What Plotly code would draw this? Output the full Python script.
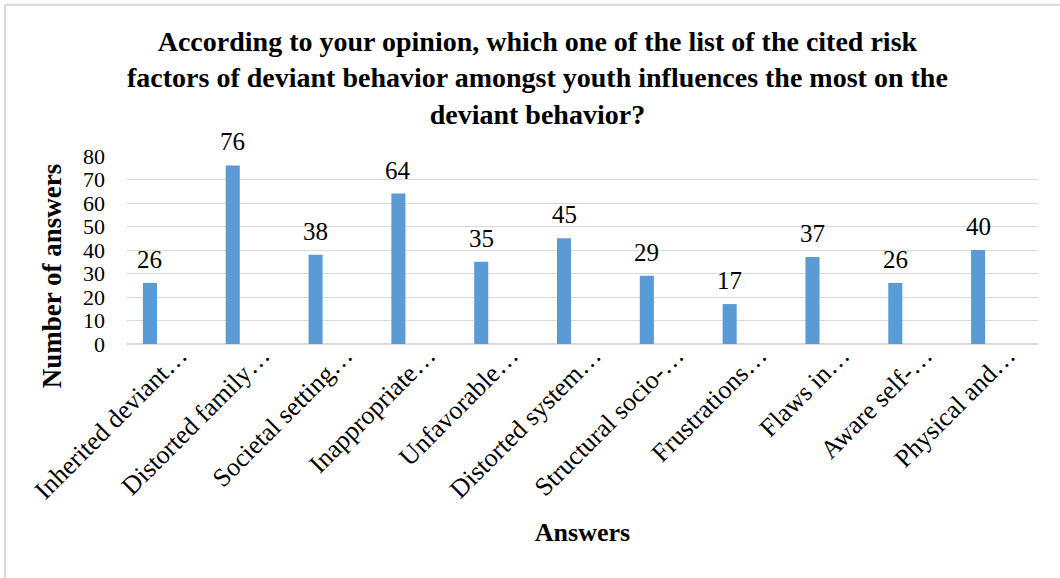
import plotly.graph_objects as go

categories = ["Inherited deviant…", "Distorted family…", "Societal setting…", "Inappropriate…",
              "Unfavorable…", "Distorted system…", "Structural socio-…", "Frustrations…",
              "Flaws in…", "Aware self-…", "Physical and…"]
values = [26, 76, 38, 64, 35, 45, 29, 17, 37, 26, 40]
y_ticks = [0, 10, 20, 30, 40, 50, 60, 70, 80]

title_text = ("According to your opinion, which one of the list of the cited risk<br>"
              "factors of deviant behavior amongst youth influences the most on the<br>"
              "deviant behavior?")
x_title = "Answers"
y_title = "Number of answers"

FONT = "Liberation Serif"
BAR_W = 0.17
BAR_OFF = -0.308

fig = go.Figure()
fig.add_trace(go.Bar(
    x=categories, y=values,
    width=BAR_W, offset=BAR_OFF,
    marker=dict(color="#5B9BD5", line=dict(width=0)),
    hoverinfo="x+y",
))

for c, v in zip(categories, values):
    fig.add_annotation(
        x=c, y=v, text=str(v), showarrow=False,
        xshift=(BAR_OFF + BAR_W / 2) * 82.8, yshift=8, yanchor="bottom",
        font=dict(family=FONT, size=25, color="#000000"),
    )

# y-axis title (placed as annotation so it can sit slightly below the plot centre like the reference)
fig.add_annotation(
    x=-0.0823, y=0.36, xref="paper", yref="paper", text=f"<b>{y_title}</b>",
    showarrow=False, textangle=-90, xanchor="center", yanchor="middle",
    font=dict(family=FONT, size=27, color="#000000"),
)

fig.update_layout(
    width=1060, height=578,
    margin=dict(l=127, r=22, t=156, b=234),
    paper_bgcolor="white", plot_bgcolor="white",
    showlegend=False,
    font=dict(family=FONT, size=25, color="#000000"),
    title=dict(
        text=title_text, xref="container", x=0.507, xanchor="center",
        yref="container", y=0.912, yanchor="top",
        font=dict(family=FONT, size=28, color="#000000", weight="bold"),
    ),
    xaxis=dict(
        type="category", range=[-0.5, len(categories) - 0.5],
        tickangle=-45, tickfont=dict(family=FONT, size=26, color="#000000"),
        showgrid=False, showline=False, zeroline=False, ticks="",
        ticklabelshift=11, ticklabelstandoff=-10,
        title=dict(text=f"<b>{x_title}</b>", font=dict(family=FONT, size=26, color="#000000"), standoff=18),
        automargin=False,
    ),
    yaxis=dict(
        range=[0, 80], tickvals=y_ticks, showgrid=True, gridcolor="#D9D9D9", gridwidth=1,
        zeroline=True, zerolinecolor="#D9D9D9", zerolinewidth=1.5, showline=False,
        tickfont=dict(family=FONT, size=22, color="#000000"),
        ticklabelstandoff=21,
        automargin=False,
    ),
    shapes=[
        dict(type="line", xref="paper", yref="paper", x0=-0.1339, x1=1.5, y0=1.804, y1=1.804,
             line=dict(color="#D9D9D9", width=2)),
        dict(type="line", xref="paper", yref="paper", x0=-0.1339, x1=-0.1339, y0=-1.5, y1=1.804,
             line=dict(color="#D9D9D9", width=2)),
    ],
)

fig.write_html("out.html")
